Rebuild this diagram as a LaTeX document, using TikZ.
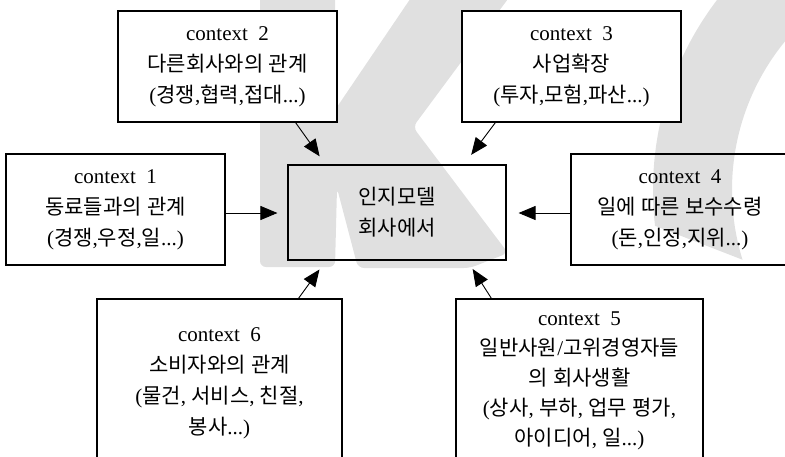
\documentclass[tikz,border=0pt]{standalone}
\usepackage{fontspec}
\setmainfont{Liberation Serif}
\newfontfamily\krfont{Noto Sans CJK KR}[Scale=1.0]
\usetikzlibrary{arrows.meta}
\newXeTeXintercharclass\krclass
\count255="AC00
\loop\XeTeXcharclass\count255=\krclass\relax
\ifnum\count255<"D7A3 \advance\count255 by 1 \repeat
\XeTeXinterchartoks 0 \krclass = {\begingroup\krfont}
\XeTeXinterchartoks 4095 \krclass = {\begingroup\krfont}
\XeTeXinterchartoks \krclass 0 = {\endgroup}
\XeTeXinterchartoks \krclass 4095 = {\endgroup}
\XeTeXinterchartokenstate=1
\definecolor{wmgray}{gray}{0.88}
\begin{document}
\begin{tikzpicture}[x=1pt,y=-1pt,
  box/.style={draw=black,line width=1.1pt,rectangle,inner sep=0pt,align=center,
    font=\fontsize{21}{31}\selectfont},
  arr/.style={line width=0.9pt,-{Triangle[length=17pt,width=14pt]}}]
\useasboundingbox (0,0) rectangle (785,456);
\begin{scope}
\clip (0,0) rectangle (785,456);
% watermark K
\fill[wmgray,rounded corners=6pt] (260,-20) -- (335,-20) -- (335,110) -- (423,-20)
  -- (522,-20) -- (413,127) -- (508,253) -- (470,268) -- (358,268) -- (337,188)
  -- (335,267) -- (260,267) -- cycle;
% watermark C
\begin{scope}
\clip (560,-20) -- (800,-20) -- (800,282) -- (640,220) -- cycle;
\fill[wmgray,even odd rule] (967,190) circle[radius=314] (967,190) circle[radius=235];
\end{scope}
\end{scope}
\node[box,fill=white,minimum width=219pt,minimum height=111pt] (b2) at (227.5,66.5)
  {context\ \ 2\\다른회사와의 관계\\(경쟁,협력,접대...)};
\node[box,fill=white,minimum width=219pt,minimum height=111pt] (b3) at (571.5,66.5)
  {context\ \ 3\\사업확장\\(투자,모험,파산...)};
\node[box,minimum width=219pt,minimum height=111pt] (b1) at (115.5,209.5)
  {context\ \ 1\\동료들과의 관계\\(경쟁,우정,일...)};
\node[box,minimum width=218pt,minimum height=111pt] (b4) at (680,209.5)
  {context\ \ 4\\일에 따른 보수수령\\(돈,인정,지위...)};
\node[box,minimum width=218pt,minimum height=95pt] (c) at (397,212.5)
  {인지모델\\회사에서};
\node[box,minimum width=245pt,minimum height=168pt] (b6) at (219.5,383)
  {context\ \ 6\\소비자와의 관계\\(물건, 서비스, 친절,\\봉사...)};
\node[box,minimum width=247pt,minimum height=163pt,
  font=\fontsize{21}{30}\selectfont] (b5) at (579.5,380.5)
  {context\ \ 5\\일반사원/고위경영자들\\의 회사생활\\(상사, 부하, 업무 평가,\\아이디어, 일...)};
\draw[arr,shorten >=10pt] ([xshift=-42pt]b2.south east) -- ([xshift=38pt]c.north west);
\draw[arr,shorten >=12pt] ([xshift=34pt]b3.south west) -- ([xshift=-42.6pt]c.north east);
\draw[arr,shorten >=10pt] ([yshift=-3.5pt]b1.east) -- ([yshift=-0.5pt]c.west);
\draw[arr,shorten >=12pt] ([yshift=-3.5pt]b4.west) -- ([yshift=-0.5pt]c.east);
\draw[arr,shorten >=11pt] ([xshift=202pt]b6.north west) -- ([xshift=38.5pt]c.south west);
\draw[arr,shorten >=10pt] ([xshift=36pt]b5.north west) -- ([xshift=-39.3pt]c.south east);
\end{tikzpicture}
\end{document}
